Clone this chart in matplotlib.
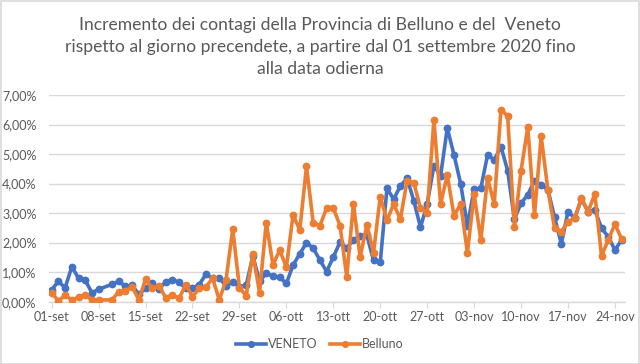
import matplotlib
matplotlib.use("Agg")
import matplotlib.pyplot as plt
import matplotlib.dates as mdates
import matplotlib.ticker as mticker
from matplotlib.patches import Rectangle
import pandas as pd
import numpy as np

plt.rcParams['font.family'] = ['Lato', 'DejaVu Sans']

title = ("Incremento dei contagi della Provincia di Belluno e del  Veneto\n"
         "rispetto al giorno precendete, a partire dal 01 settembre 2020 fino\n"
         "alla data odierna")

# dates (09-set missing in the source data)
dates = [d for d in pd.date_range("2020-09-01", "2020-11-25", freq="D")
         if d != pd.Timestamp("2020-09-09")]

veneto = [0.40, 0.69, 0.47, 1.18, 0.80, 0.73, 0.30, 0.42,
          0.59, 0.69, 0.52, 0.55, 0.25, 0.45, 0.62, 0.42, 0.68, 0.74, 0.66, 0.45,
          0.45, 0.58, 0.93, 0.79, 0.81, 0.53, 0.68, 0.51, 0.55, 1.55, 0.70,
          0.96, 0.87, 0.83, 0.62, 1.24, 1.62, 2.00, 1.81, 1.41, 1.02, 1.51,
          2.02, 1.81, 2.10, 2.22, 2.26, 1.40, 1.33, 3.84, 3.47, 3.92, 4.18,
          3.42, 2.52, 3.31, 4.60, 4.27, 5.88, 4.97, 3.99, 2.57, 3.81, 3.84,
          4.97, 4.80, 5.25, 4.44, 2.79, 3.34, 3.62, 4.10, 3.96, 3.79, 2.86,
          1.96, 3.05, 2.83, 3.47, 3.05, 3.11, 2.49, 2.20, 1.75, 2.09]

belluno = [0.31, 0.02, 0.22, 0.06, 0.15, 0.22, 0.06, 0.06,
           0.06, 0.34, 0.36, 0.51, 0.06, 0.76, 0.45, 0.53, 0.14, 0.23, 0.11, 0.58,
           0.17, 0.45, 0.50, 0.79, 0.06, 0.74, 2.45, 0.48, 0.20, 1.62, 0.31,
           2.68, 1.24, 1.75, 1.17, 2.94, 2.43, 4.58, 2.68, 2.57, 3.17, 3.17,
           2.58, 0.84, 3.31, 1.51, 2.60, 1.66, 3.56, 2.75, 3.31, 2.79, 4.10,
           4.03, 3.17, 3.02, 6.14, 3.32, 4.29, 2.91, 3.31, 1.66, 3.65, 2.09,
           4.18, 3.31, 6.50, 6.29, 2.52, 4.44, 5.91, 2.94, 5.60, 3.79, 2.49,
           2.37, 2.71, 2.83, 3.51, 3.05, 3.65, 1.55, 2.09, 2.63, 2.12]

tick_labels = ["01-set", "08-set", "15-set", "22-set", "29-set", "06-ott",
               "13-ott", "20-ott", "27-ott", "03-nov", "10-nov", "17-nov", "24-nov"]
tick_dates = pd.date_range("2020-09-01", periods=len(tick_labels), freq="7D")

blue = "#4472C4"
orange = "#ED7D31"
grey_txt = "#595959"
grid_c = "#D9D9D9"

fig = plt.figure(figsize=(6.4, 3.64), dpi=100)
fig.patch.set_facecolor("white")
ax = fig.add_axes([49/640, 1-301.7/364, (625-49)/640, (301.7-95)/364])

x = mdates.date2num(dates)
ax.plot(x, veneto, color=blue, lw=2.6, marker="o", ms=4.6, label="VENETO", zorder=3)
ax.plot(x, belluno, color=orange, lw=2.6, marker="o", ms=4.6, label="Belluno", zorder=4)

x0 = mdates.date2num(pd.Timestamp("2020-09-01"))
ax.set_xlim(x0 - 0.4, x0 + 85.5)
ax.set_ylim(0, 7)
ax.yaxis.set_major_locator(mticker.MultipleLocator(1))
ax.yaxis.set_major_formatter(mticker.FuncFormatter(lambda v, p: f"{v:.2f}%".replace(".", ",")))
ax.set_xticks(mdates.date2num(tick_dates))
ax.set_xticklabels(tick_labels)

ax.grid(axis="y", color=grid_c, lw=1)
ax.set_axisbelow(True)
for s in ["top", "right", "left"]:
    ax.spines[s].set_visible(False)
ax.spines["bottom"].set_color(grid_c)
ax.spines["bottom"].set_linewidth(1)
ax.tick_params(axis="y", length=0, pad=9, labelsize=9, labelcolor=grey_txt)
ax.tick_params(axis="x", length=4, color=grid_c, pad=3, labelsize=9, labelcolor=grey_txt)

fig.text(0.5, 1-47/364, title, ha="center", va="center", fontsize=12.6,
         color=grey_txt, linespacing=1.45)

fig.legend(loc="center", bbox_to_anchor=(0.5, 1-344/364), ncol=2, frameon=False,
           fontsize=9, labelcolor=grey_txt, handlelength=2.4, handletextpad=0.15,
           columnspacing=1.0, markerscale=0.9)

fig.patches.append(Rectangle((0.5/640, 0.5/364), 1-1.5/640, 1-1.5/364,
                             transform=fig.transFigure, fill=False,
                             edgecolor="#D9D9D9", lw=1.2))

fig.savefig("out.png", dpi=100, facecolor="white")
